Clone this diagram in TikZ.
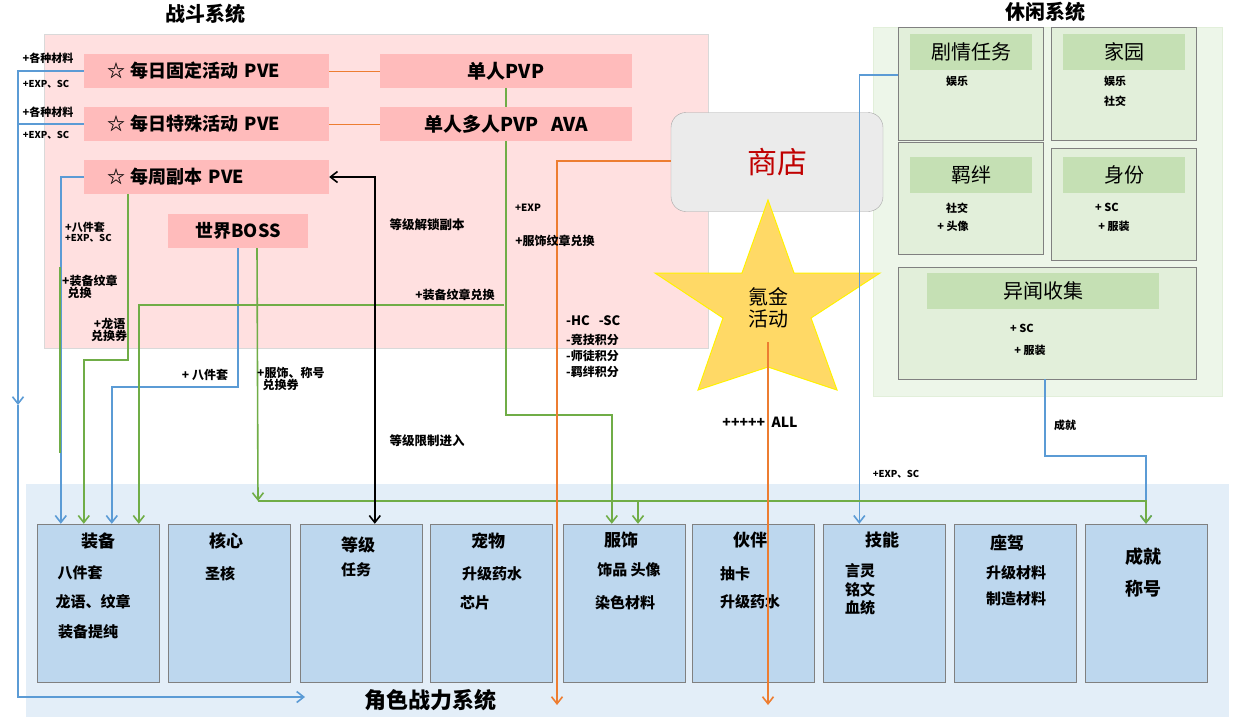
\documentclass[tikz,border=0pt]{standalone}
\usepackage{fontspec}
\setmainfont{Noto Sans CJK SC}
\usetikzlibrary{shapes.geometric, arrows.meta, positioning, calc}
\definecolor{battlebg}{RGB}{255, 224, 224}
\definecolor{leisurebg}{RGB}{237, 246, 233}
\definecolor{powerbg}{RGB}{227, 238, 248}
\definecolor{pvepink}{RGB}{255, 187, 187}
\definecolor{shopgray}{RGB}{235, 235, 235}
\definecolor{shopred}{RGB}{192, 0, 0}
\definecolor{stargold}{RGB}{255, 217, 102}
\definecolor{leisurefill}{RGB}{226, 239, 218}
\definecolor{headgreen}{RGB}{197, 224, 180}
\definecolor{attrblue}{RGB}{189, 215, 238}
\definecolor{boxgray}{RGB}{128, 128, 128}
\definecolor{lineblue}{RGB}{91, 155, 213}
\definecolor{linegreen}{RGB}{112, 173, 71}
\definecolor{lineorange}{RGB}{237, 125, 49}
\newcommand{\fsz}[1]{\fontsize{#1}{#1}\selectfont}
\tikzstyle{pve} = [rectangle, fill=pvepink, minimum height=34pt, inner sep=0pt, font=\bfseries\fsz{18}]
\tikzstyle{shop} = [rectangle, rounded corners=15pt, draw=boxgray!70, fill=shopgray, minimum width=212pt, minimum height=99pt, text=shopred, font=\fsz{30}]
\tikzstyle{leisure} = [rectangle, draw=boxgray, fill=leisurefill, minimum width=145pt, minimum height=113pt]
\tikzstyle{leisurehead} = [rectangle, fill=headgreen, minimum width=122pt, minimum height=36pt, font=\fsz{20}]
\tikzstyle{attr} = [rectangle, draw=boxgray, fill=attrblue, minimum width=122pt, minimum height=158pt]
\tikzstyle{attrtitle} = [inner sep=0pt, font=\bfseries\fsz{17}]
\tikzstyle{attritem} = [inner sep=0pt, font=\bfseries\fsz{15}]
\tikzstyle{tag} = [inner sep=0pt, font=\bfseries\fsz{10.5}, align=left]
\tikzstyle{small} = [inner sep=0pt, font=\bfseries\fsz{11}]
\tikzstyle{wire} = [line width=1.6pt]
\tikzstyle{arrow} = [wire, -{Straight Barb[length=7pt,width=11pt]}]

\begin{document}
\begin{tikzpicture}[x=1pt, y=-1pt]

\useasboundingbox (0,0) rectangle (1233,720);

% areas
\draw[draw=black!15, fill=battlebg] (44,34) rectangle (708,348);
\draw[draw=leisurefill, fill=leisurebg] (873,27) rectangle (1222,396);
\fill[powerbg] (26,484) rectangle (1229,717);
\node (battletitle) [inner sep=0pt, font=\bfseries\fsz{20}] at (205,14) {战斗系统};
\node (leisuretitle) [inner sep=0pt, font=\bfseries\fsz{20}] at (1045,12) {休闲系统};
\node (powertitle) [inner sep=0pt, font=\bfseries\fsz{22}] at (430,700) {角色战力系统};

% battle activities
\node (fixpve) [pve, minimum width=245pt, text width=199pt, inner xsep=23pt, align=left] at (206.5,71) {☆ 每日固定活动 PVE};
\node (specpve) [pve, minimum width=245pt, text width=199pt, inner xsep=23pt, align=left] at (206.5,124) {☆ 每日特殊活动 PVE};
\node (weekpve) [pve, minimum width=245pt, text width=199pt, inner xsep=23pt, align=left] at (206.5,177) {☆ 每周副本 PVE};
\node (pvp) [pve, minimum width=252pt, font=\bfseries\fsz{19}] at (506,71) {单人PVP};
\node (mpvp) [pve, minimum width=252pt, font=\bfseries\fsz{19}] at (506,124) {单人多人PVP\ \ \ AVA};
\node (boss) [pve, minimum width=140pt] at (238,231) {世界BOSS};

% shop and star
\node (shop) [shop] at (777,162) {商店};
\draw[draw=yellow, fill=stargold, line width=1pt] (768,200) -- (794,273) -- (880,273) -- (811,318) -- (837,390) -- (768,367) -- (698,390) -- (723,318) -- (655,273) -- (742,273) -- cycle;
\node (krypton) [inner sep=0pt, font=\fsz{20}, align=center] at (768,308) {氪金\\[2pt]活动};

% leisure system
\node (jq) [leisure] at (970.5,83.5) {};
\node (jy) [leisure] at (1123.5,83.5) {};
\node (jb) [leisure, minimum height=112pt] at (970.5,198) {};
\node (sf) [leisure, minimum height=112pt] at (1123.5,204) {};
\node (yw) [leisure, minimum width=298pt, minimum height=112pt] at (1047,323) {};
\node (jqhead) [leisurehead] at (971,52) {剧情任务};
\node (jyhead) [leisurehead] at (1124,52) {家园};
\node (jbhead) [leisurehead] at (971,175) {羁绊};
\node (sfhead) [leisurehead] at (1124,175) {身份};
\node (ywhead) [leisurehead, minimum width=232pt] at (1043,291) {异闻收集};
\node (jqfun) [small] at (957,81) {娱乐};
\node (jyfun) [small] at (1115,81) {娱乐};
\node (jysocial) [small] at (1115,101) {社交};
\node (jbsocial) [small] at (957,208) {社交};
\node (jbavatar) [small] at (953,226) {+ 头像};
\node (sfsc) [small] at (1107,207) {+ SC};
\node (sfwear) [small] at (1114,226) {+ 服装};
\node (ywsc) [small] at (1022,328) {+ SC};
\node (ywwear) [small] at (1030,350) {+ 服装};

% character power boxes
\node (zb) [attr] at (98,603) {};
\node (hx) [attr] at (229,603) {};
\node (dj) [attr] at (361,603) {};
\node (cw) [attr] at (491,603) {};
\node (fs) [attr] at (624,603) {};
\node (hb) [attr] at (753,603) {};
\node (jn) [attr] at (884.5,603) {};
\node (zj) [attr] at (1015,603) {};
\node (cj) [attr] at (1146,603) {};
\node (zbtitle) [attrtitle] at (98,541) {装备};
\node (zbset) [attritem] at (80,573) {八件套};
\node (zbrune) [attritem] at (93,602) {龙语、纹章};
\node (zbpure) [attritem] at (88,632) {装备提纯};
\node (hxtitle) [attrtitle] at (226,541) {核心};
\node (hxcore) [attritem] at (220,574) {圣核};
\node (djtitle) [attrtitle] at (358,545) {等级};
\node (djtask) [attritem] at (356,570) {任务};
\node (cwtitle) [attrtitle] at (488,541) {宠物};
\node (cwpotion) [attritem] at (492,574) {升级药水};
\node (cwchip) [attritem] at (475,603) {芯片};
\node (fstitle) [attrtitle] at (621,540) {服饰};
\node (fsitem) [attritem] at (629,570) {饰品\ 头像};
\node (fsdye) [attritem] at (625,603) {染色材料};
\node (hbtitle) [attrtitle] at (750,540) {伙伴};
\node (hbcard) [attritem] at (735,574) {抽卡};
\node (hbpotion) [attritem] at (750,602) {升级药水};
\node (jntitle) [attrtitle] at (882,540) {技能};
\node (jnword) [attritem] at (860,571) {言灵};
\node (jnmark) [attritem] at (860,590) {铭文};
\node (jnblood) [attritem] at (860,608) {血统};
\node (zjtitle) [attrtitle] at (1007,543) {座驾};
\node (zjup) [attritem] at (1016,573) {升级材料};
\node (zjmake) [attritem] at (1016,599) {制造材料};
\node (cjtitle) [attrtitle, font=\bfseries\fsz{18}] at (1143,557) {成就};
\node (cjname) [attrtitle, font=\bfseries\fsz{18}] at (1143,589) {称号};

% free ends
\coordinate (leftrail) at (18,405);
\coordinate (powerin) at (305,697);
\coordinate (greenbus) at (258,501);
\coordinate (fsjoin) at (638,501);
\coordinate (gearswap) at (504,305);
\coordinate (gearstart) at (60,267);
\coordinate (gearend) at (60,453);
\coordinate (shopout) at (557,705);
\coordinate (kryptonout) at (768,705);

% Arrows
\draw [arrow, lineblue] (fixpve.west) -| (leftrail);
\draw [arrow, lineblue] (leftrail) |- (powerin);
\draw [wire, lineblue] (specpve.west) -- (specpve.west -| leftrail);
\draw [arrow, lineblue] (weekpve.west) -| ([xshift=24pt]zb.north west);
\draw [arrow, lineblue] (boss.south) -- ++(0,139) -| ([xshift=75pt]zb.north west);
\draw [arrow, lineblue] ([yshift=8.5pt]jq.west) -| ([xshift=36pt]jn.north west);
\draw [arrow, lineblue] ([xshift=-2pt]yw.south) -- ++(0,77) -| (cj.north);

\draw [wire, linegreen] (pvp.south) -- (mpvp.north);
\draw [arrow, linegreen] (mpvp.south) -- ++(0,274) -| ([xshift=49pt]fs.north west);
\draw [arrow, linegreen] (gearswap) -| ([xshift=102pt]zb.north west);
\draw [arrow, linegreen] ([xshift=-78.5pt]weekpve.south) -- ++(0,166) -| ([xshift=47pt]zb.north west);
\draw [wire, linegreen] (gearstart) -- (gearend);
\draw [arrow, linegreen] ([xshift=19pt]boss.south) -- (greenbus);
\draw [arrow, linegreen] (greenbus) -| (cj.north);
\draw [arrow, linegreen] (fsjoin) -- (fsjoin |- fs.north);

\draw [wire, black, {Straight Barb[length=7pt,width=11pt]}-{Straight Barb[length=7pt,width=11pt]}] (weekpve.east) -| ([xshift=75pt]dj.north west);

\draw [lineorange, line width=0.8pt] (fixpve.east) -- (pvp.west);
\draw [lineorange, line width=0.8pt] (specpve.east) -- (mpvp.west);
\draw [arrow, lineorange] ([yshift=1pt]shop.west) -| (shopout);
\draw [arrow, lineorange] ([yshift=-14pt]krypton.south) -- (kryptonout);

% labels
\node (lbfix1) [tag, font=\bfseries\fsz{11}] at (48,58) {+各种材料};
\node (lbfix2) [tag, font=\bfseries\fsz{9.5}] at (46,84) {+EXP、SC};
\node (lbspec1) [tag, font=\bfseries\fsz{11}] at (48,112) {+各种材料};
\node (lbspec2) [tag, font=\bfseries\fsz{9.5}] at (46,135) {+EXP、SC};
\node (lbweek) [tag, anchor=west, font=\bfseries\fsz{11}] at (65,232) {+八件套\\[-1pt]{\fsz{9.5}+EXP、SC}};
\node (lbgear) [tag, anchor=west, font=\bfseries\fsz{12}] at (62,287) {+装备纹章\\\ \ 兑换};
\node (lbrune) [tag, anchor=west, font=\bfseries\fsz{12}] at (91,330) {\ +龙语\\兑换券};
\node (lbset) [tag, font=\bfseries\fsz{12}] at (205,375) {+ 八件套};
\node (lbwear) [tag, anchor=west, font=\bfseries\fsz{12}] at (257,379) {+服饰、称号\\\ \ 兑换券};
\node (lbunlock) [tag, font=\bfseries\fsz{12.5}] at (427,225) {等级解锁副本};
\node (lblimit) [tag, font=\bfseries\fsz{12.5}] at (427,441) {等级限制进入};
\node (lbexp) [tag, font=\bfseries\fsz{10}] at (528,208) {+EXP};
\node (lbfsswap) [tag, font=\bfseries\fsz{12}] at (555,241) {+服饰纹章兑换};
\node (lbzbswap) [tag, font=\bfseries\fsz{12}] at (455,295) {+装备纹章兑换};
\node (lbcost) [tag, anchor=west, font=\bfseries\fsz{13}] at (566,321) {-HC\ \ \ -SC};
\node (lbpoints) [tag, anchor=north west, font=\bfseries\fsz{12}] at (566,334) {-竞技积分\\[4pt]-师徒积分\\[4pt]-羁绊积分};
\node (lball) [tag, font=\bfseries\fsz{14}] at (760,422) {+++++\ \ ALL};
\node (lbach) [tag, font=\bfseries\fsz{11}] at (1065,425) {成就};
\node (lbskill) [tag, font=\bfseries\fsz{9.5}] at (896,474) {+EXP、SC};

\end{tikzpicture}
\end{document}
